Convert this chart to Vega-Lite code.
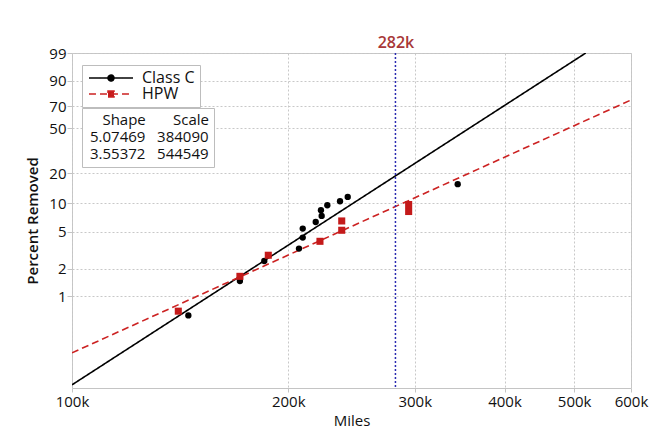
{
  "$schema": "https://vega.github.io/schema/vega-lite/v6.json",
  "width": 559,
  "height": 335,
  "autosize": "none",
  "padding": {"left": 72, "top": 53, "right": 40, "bottom": 48},
  "background": "white",
  "config": {
    "font": "Open Sans",
    "view": {"stroke": "#c4c4c4", "strokeWidth": 1},
    "axis": {
      "labelFont": "Open Sans", "labelFontSize": 15, "labelColor": "#111",
      "titleFont": "Open Sans", "titleFontSize": 15, "titleColor": "#111",
      "grid": true, "gridColor": "#c8c8c8", "gridDash": [2, 2], "gridWidth": 1,
      "domain": false, "tickColor": "#c4c4c4"
    },
    "legend": {"labelFont": "Open Sans", "titleFont": "Open Sans", "labelFontSize": 15, "labelColor": "#111", "titleColor": "#111"}
  },
  "datasets": {
    "fits": [
      {"series": "Class C", "params": "5.07469\u00a0\u00a0\u00a0384090", "miles": 100000, "percent": 0.1083},
      {"series": "Class C", "params": "5.07469\u00a0\u00a0\u00a0384090", "miles": 519000, "percent": 99},
      {"series": "HPW", "params": "3.55372\u00a0\u00a0\u00a0544549", "miles": 100000, "percent": 0.2421},
      {"series": "HPW", "params": "3.55372\u00a0\u00a0\u00a0544549", "miles": 600000, "percent": 75.6}
    ],
    "obs": [
      {"series": "Class C", "miles": 145200, "percent": 0.62},
      {"series": "Class C", "miles": 171300, "percent": 1.47},
      {"series": "Class C", "miles": 185200, "percent": 2.42},
      {"series": "Class C", "miles": 207000, "percent": 3.29},
      {"series": "Class C", "miles": 209500, "percent": 4.32},
      {"series": "Class C", "miles": 209500, "percent": 5.39},
      {"series": "Class C", "miles": 218400, "percent": 6.33},
      {"series": "Class C", "miles": 222600, "percent": 7.34},
      {"series": "Class C", "miles": 222100, "percent": 8.41},
      {"series": "Class C", "miles": 226700, "percent": 9.49},
      {"series": "Class C", "miles": 236100, "percent": 10.44},
      {"series": "Class C", "miles": 242000, "percent": 11.57},
      {"series": "Class C", "miles": 344300, "percent": 15.57},
      {"series": "HPW", "miles": 140600, "percent": 0.69},
      {"series": "HPW", "miles": 171300, "percent": 1.65},
      {"series": "HPW", "miles": 187600, "percent": 2.79},
      {"series": "HPW", "miles": 221400, "percent": 3.94},
      {"series": "HPW", "miles": 237400, "percent": 5.17},
      {"series": "HPW", "miles": 237400, "percent": 6.49},
      {"series": "HPW", "miles": 294200, "percent": 8.16},
      {"series": "HPW", "miles": 294200, "percent": 9.65}
    ],
    "ref": [{"miles": 282000}]
  },
  "layer": [
    {
      "data": {"name": "fits"},
      "transform": [{"calculate": "-log(1 - datum.percent / 100)", "as": "q"}],
      "mark": {"type": "line", "strokeWidth": 1.6, "clip": true},
      "encoding": {
        "x": {
          "field": "miles", "type": "quantitative",
          "scale": {"type": "log", "domain": [100000, 600000], "nice": false},
          "axis": {"values": [100000, 200000, 300000, 400000, 500000, 600000], "labelExpr": "format(datum.value / 1000, '.0f') + 'k'", "title": "Miles", "grid": true, "tickSize": 4, "labelPadding": 2, "titlePadding": 4, "titleFontWeight": "normal", "labelFlush": false}
        },
        "y": {
          "field": "q", "type": "quantitative",
          "scale": {"type": "log", "domain": [0.0010005, 4.60517019], "nice": false},
          "axis": {"values": [0.01005034, 0.02020271, 0.05129329, 0.10536052, 0.22314355, 0.69314718, 1.2039728, 2.30258509, 4.60517019], "labelExpr": "format(100 * (1 - exp(-datum.value)), '.0f')", "title": "Percent Removed", "grid": true, "gridColor": "#c8c8c8", "gridDash": [2, 2], "gridOpacity": 1, "tickSize": 5, "labelPadding": 1, "titlePadding": 8, "titleFontWeight": 600, "labelFlush": false}
        },
        "color": {
          "field": "series", "type": "nominal",
          "scale": {"domain": ["Class C", "HPW"], "range": ["black", "#cc2222"]},
          "legend": {
            "title": null, "orient": "none", "legendX": 10, "legendY": 12,
            "strokeColor": "#bdbdbd", "fillColor": "white", "padding": 5, "rowPadding": 0,
            "labelFontSize": 16,
            "symbolType": "M-3.67,0H3.67M0.5,0A0.5,0.5,0,1,1,-0.5,0A0.5,0.5,0,1,1,0.5,0Z",
            "symbolSize": 144, "symbolStrokeWidth": 1.5, "symbolOffset": 16, "labelOffset": 23,
            "encode": {"symbols": {"update": {
              "shape": {"signal": "datum.value === 'HPW' ? 'M-3.67,0H3.67M-0.5,-0.5H0.5V0.5H-0.5Z' : 'M-3.67,0H3.67M0.5,0A0.5,0.5,0,1,1,-0.5,0A0.5,0.5,0,1,1,0.5,0Z'"},
              "fill": {"signal": "datum.value === 'HPW' ? '#c41a1a' : 'black'"}
            }}}
          }
        },
        "strokeDash": {
          "field": "series", "type": "nominal",
          "scale": {"domain": ["Class C", "HPW"], "range": [[1, 0], [7, 4]]}
        },
        "opacity": {
          "field": "params", "type": "ordinal",
          "scale": {"domain": ["5.07469\u00a0\u00a0\u00a0384090", "3.55372\u00a0\u00a0\u00a0544549"], "range": [1, 1]},
          "legend": {
            "title": "Shape\u00a0\u00a0\u00a0\u00a0\u00a0\u00a0\u00a0Scale",
            "titleFontSize": 15, "titleFontWeight": "normal", "titlePadding": 1,
            "titleAnchor": "end", "titleAlign": "right",
            "labelFontSize": 15,
            "orient": "none", "legendX": 10, "legendY": 55,
            "strokeColor": "#bdbdbd", "fillColor": "white", "padding": 5, "rowPadding": 1,
            "symbolOpacity": 0, "symbolSize": 0, "symbolStrokeWidth": 0, "labelOffset": -12
          }
        }
      }
    },
    {
      "data": {"name": "obs"},
      "transform": [{"calculate": "-log(1 - datum.percent / 100)", "as": "q"}],
      "mark": {"type": "point", "filled": true, "opacity": 1},
      "encoding": {
        "x": {"field": "miles", "type": "quantitative", "axis": null},
        "y": {"field": "q", "type": "quantitative", "axis": null},
        "color": {"field": "series", "type": "nominal", "scale": {"domain": ["Class C", "HPW"], "range": ["black", "#c41a1a"]}, "legend": null},
        "shape": {"field": "series", "type": "nominal", "scale": {"domain": ["Class C", "HPW"], "range": ["circle", "square"]}, "legend": null},
        "size": {"field": "series", "type": "nominal", "scale": {"domain": ["Class C", "HPW"], "range": [40, 50]}, "legend": null}
      }
    },
    {
      "data": {"name": "ref"},
      "mark": {"type": "rule", "color": "#2a2ab0", "strokeDash": [2, 2], "strokeWidth": 1.5},
      "encoding": {
        "x": {
          "field": "miles", "type": "quantitative",
          "axis": {"orient": "top", "values": [282000], "labelExpr": "format(datum.value / 1000, '.0f') + 'k'", "title": null, "grid": false, "ticks": false, "domain": false, "labelPadding": 3, "labelColor": "#a83838", "labelFontSize": 16, "labelFontWeight": 600}
        }
      }
    }
  ],
  "resolve": {"scale": {"color": "independent"}, "legend": {"color": "independent", "strokeDash": "independent", "opacity": "independent", "shape": "independent", "size": "independent"}, "axis": {"x": "independent", "y": "independent"}}
}
